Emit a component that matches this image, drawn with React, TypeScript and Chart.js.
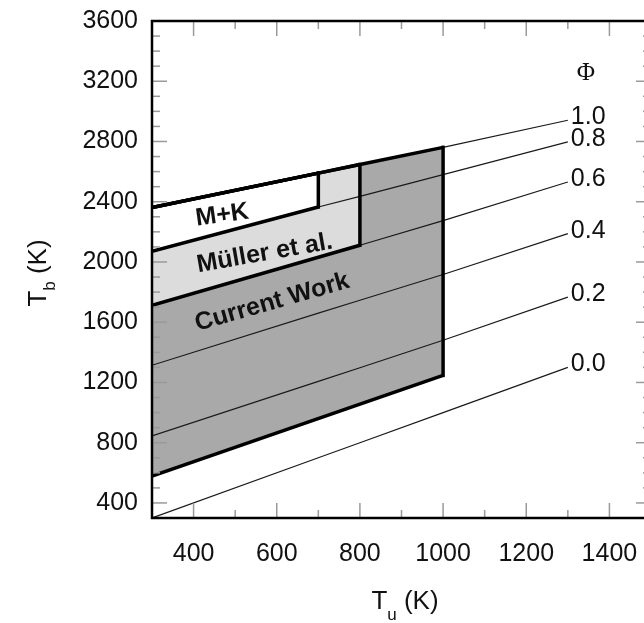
import { useEffect, useRef } from 'react';
import { Chart, registerables } from 'chart.js';

Chart.register(...registerables);

// Unburned temperature grid (K) at which each equivalence-ratio curve is tabulated
const unburnedTemps = [300, 700, 800, 1000, 1300];

// Burned-gas temperature T_b (K) for each equivalence ratio Φ
const phiLabels = ['0.0', '0.2', '0.4', '0.6', '0.8', '1.0'];
const tbPhi00 = [300, 700, 800, 1000, 1300];
const tbPhi02 = [845, 1207, 1298, 1480, 1767];
const tbPhi04 = [1314, 1660, 1746, 1917, 2188];
const tbPhi06 = [1712, 2031, 2111, 2275, 2531];
const tbPhi08 = [2070, 2365, 2435, 2580, 2797];
const tbPhi10 = [2361, 2590, 2647, 2761, 2941];

// Lower edge of the current work's range
const currentWorkLowerTu = [300, 1000];
const currentWorkLowerTb = [579, 1247];

// Covered ranges: name and highest unburned temperature
const regionNames = ['M+K', 'Müller et al.', 'Current Work'];
const regionMaxTu = [700, 800, 1000];

const xTickValues = [400, 600, 800, 1000, 1200, 1400];
const yTickValues = [400, 800, 1200, 1600, 2000, 2400, 2800, 3200, 3600];

const FONT = '"Liberation Sans", Arial, Helvetica, sans-serif';
const SERIF = '"Liberation Serif", "Times New Roman", serif';

const regionFills = ['#ffffff', '#dcdcdc', '#a9a9a9'];
// label anchor (T_u, T_b) and rotation in degrees
const regionLabelAnchors = [
  { tu: 469, tb: 2310, angle: -8 },
  { tu: 571, tb: 2056, angle: -10 },
  { tu: 589, tb: 1731, angle: -16 },
];

type Pt = { x: number; y: number };

const toPoints = (tb: number[], maxTu = Infinity): Pt[] =>
  unburnedTemps
    .map((tu, i) => ({ x: tu, y: tb[i] }))
    .filter((p) => p.x <= maxTu);

const atTu = (tb: number[], tu: number) => tb[unburnedTemps.indexOf(tu)];

const phiCurves = [tbPhi00, tbPhi02, tbPhi04, tbPhi06, tbPhi08, tbPhi10];

function buildDatasets() {
  const lowers: Pt[][] = [
    toPoints(tbPhi08, regionMaxTu[0]),
    toPoints(tbPhi06, regionMaxTu[1]),
    currentWorkLowerTu.map((tu, i) => ({ x: tu, y: currentWorkLowerTb[i] })),
  ];
  const thick = { borderColor: '#000', borderWidth: 3.5, pointRadius: 0, tension: 0 };
  const sets: any[] = [];
  regionNames.forEach((name, r) => {
    const maxTu = regionMaxTu[r];
    const upper = toPoints(tbPhi10, maxTu);
    const lower = lowers[r];
    const base = sets.length;
    sets.push({
      label: name + ' upper',
      data: upper,
      ...thick,
      fill: base + 1,
      backgroundColor: regionFills[r],
    });
    sets.push({ label: name + ' lower', data: lower, ...thick, fill: false });
    sets.push({
      label: name + ' edge',
      data: [
        lower[lower.length - 1],
        { x: maxTu, y: atTu(tbPhi10, maxTu) },
      ],
      ...thick,
      borderCapStyle: 'square',
      fill: false,
    });
  });
  phiCurves.forEach((tb, i) => {
    sets.push({
      label: 'Φ = ' + phiLabels[i],
      data: toPoints(tb),
      borderColor: '#1a1a1a',
      borderWidth: 1.2,
      pointRadius: 0,
      tension: 0,
      fill: false,
    });
  });
  return sets;
}

function drawSubscripted(
  ctx: CanvasRenderingContext2D,
  main: string,
  sub: string,
  rest: string,
  size: number,
  subSize: number,
  subDrop: number,
  center: number,
  baseline: number,
) {
  ctx.font = `${size}px ${FONT}`;
  const wMain = ctx.measureText(main).width;
  const wRest = ctx.measureText(rest).width;
  ctx.font = `${subSize}px ${FONT}`;
  const wSub = ctx.measureText(sub).width;
  let cx = center - (wMain + wSub + wRest) / 2;
  ctx.textAlign = 'left';
  ctx.textBaseline = 'alphabetic';
  ctx.font = `${size}px ${FONT}`;
  ctx.fillText(main, cx, baseline);
  cx += wMain;
  ctx.font = `${subSize}px ${FONT}`;
  ctx.fillText(sub, cx, baseline + subDrop);
  cx += wSub;
  ctx.font = `${size}px ${FONT}`;
  ctx.fillText(rest, cx, baseline);
}

const decorations = {
  id: 'decorations',
  afterDatasetsDraw(chart: any) {
    const { ctx, chartArea: a } = chart;
    const x = chart.scales.x;
    const y = chart.scales.y;
    ctx.save();

    // inward tick marks on all four sides
    ctx.strokeStyle = '#9a9a9a';
    ctx.lineWidth = 1.5;
    const seg = (x1: number, y1: number, x2: number, y2: number) => {
      ctx.beginPath();
      ctx.moveTo(x1, y1);
      ctx.lineTo(x2, y2);
      ctx.stroke();
    };
    for (let v = 400; v <= 1400; v += 100) {
      const px = x.getPixelForValue(v);
      const len = v % 200 === 0 ? 15 : 8;
      seg(px, a.bottom, px, a.bottom - len);
      seg(px, a.top, px, a.top + len);
    }
    for (let v = 400; v <= 3500; v += 100) {
      const py = y.getPixelForValue(v);
      const len = v % 400 === 0 ? 15 : 8;
      seg(a.left, py, a.left + len, py);
      seg(a.right, py, a.right - len, py);
    }

    // plot frame
    ctx.strokeStyle = '#000';
    ctx.lineWidth = 2.5;
    ctx.strokeRect(a.left, a.top, a.right - a.left, a.bottom - a.top);

    // Φ curve labels at the line ends
    ctx.fillStyle = '#111';
    ctx.font = `25px ${FONT}`;
    ctx.textAlign = 'left';
    ctx.textBaseline = 'middle';
    const endTu = unburnedTemps[unburnedTemps.length - 1];
    phiCurves.forEach((tb, i) => {
      const px = x.getPixelForValue(endTu) + 3;
      const py = y.getPixelForValue(tb[tb.length - 1]) - 3;
      ctx.fillText(phiLabels[i], px, py);
    });
    ctx.font = `25px ${SERIF}`;
    ctx.textAlign = 'center';
    ctx.fillText('Φ', x.getPixelForValue(endTu) + 18, y.getPixelForValue(3255));

    // range labels
    ctx.font = `bold 25px ${FONT}`;
    regionNames.forEach((name, r) => {
      const anc = regionLabelAnchors[r];
      ctx.save();
      ctx.translate(x.getPixelForValue(anc.tu), y.getPixelForValue(anc.tb));
      ctx.rotate((anc.angle * Math.PI) / 180);
      ctx.textAlign = 'center';
      ctx.textBaseline = 'middle';
      ctx.fillText(name, 0, 0);
      ctx.restore();
    });

    // axis titles
    ctx.fillStyle = '#111';
    drawSubscripted(ctx, 'T', 'u', ' (K)', 26, 17, 11, 405, 609);
    ctx.save();
    ctx.translate(46, 0);
    ctx.rotate(-Math.PI / 2);
    drawSubscripted(ctx, 'T', 'b', ' (K)', 26, 17, 9, -273, 0);
    ctx.restore();

    ctx.restore();
  },
};

export default function App() {
  const canvasRef = useRef<HTMLCanvasElement | null>(null);

  useEffect(() => {
    const canvas = canvasRef.current;
    if (!canvas) return;
    const tickFont = { family: FONT, size: 25 };
    const chart = new Chart(canvas, {
      type: 'line',
      data: { datasets: buildDatasets() },
      options: {
        responsive: false,
        animation: false,
        events: [],
        layout: { padding: { top: 21, right: 13, left: 0, bottom: 0 } },
        plugins: {
          legend: { display: false },
          tooltip: { enabled: false },
          filler: { drawTime: 'beforeDatasetsDraw' },
        },
        scales: {
          x: {
            type: 'linear',
            min: 300,
            max: 1500,
            grid: { display: false, drawTicks: false, tickLength: 0 },
            border: { display: false },
            ticks: {
              font: tickFont,
              color: '#111',
              padding: 21,
              maxRotation: 0,
              autoSkip: false,
              callback: (v: any) => String(v),
            },
            afterBuildTicks: (s: any) => {
              s.ticks = xTickValues.map((v) => ({ value: v }));
            },
            afterFit: (s: any) => {
              s.height = 105;
              s.paddingLeft = 0;
              s.paddingRight = 0;
            },
          },
          y: {
            type: 'linear',
            min: 300,
            max: 3600,
            grid: { display: false, drawTicks: false, tickLength: 0 },
            border: { display: false },
            ticks: {
              font: tickFont,
              color: '#111',
              padding: 14,
              autoSkip: false,
              callback: (v: any) => String(v),
            },
            afterBuildTicks: (s: any) => {
              s.ticks = yTickValues.map((v) => ({ value: v }));
            },
            afterFit: (s: any) => {
              s.width = 152;
              s.paddingTop = 0;
              s.paddingBottom = 0;
            },
          },
        },
      },
      plugins: [decorations],
    });
    return () => chart.destroy();
  }, []);

  return (
    <div
      style={{
        position: 'fixed',
        left: 0,
        top: 0,
        width: 644,
        height: 623,
        overflow: 'hidden',
        background: '#fff',
      }}
    >
      <canvas
        ref={canvasRef}
        width={664}
        height={623}
        style={{ display: 'block', position: 'absolute', left: 0, top: 0 }}
      />
    </div>
  );
}
